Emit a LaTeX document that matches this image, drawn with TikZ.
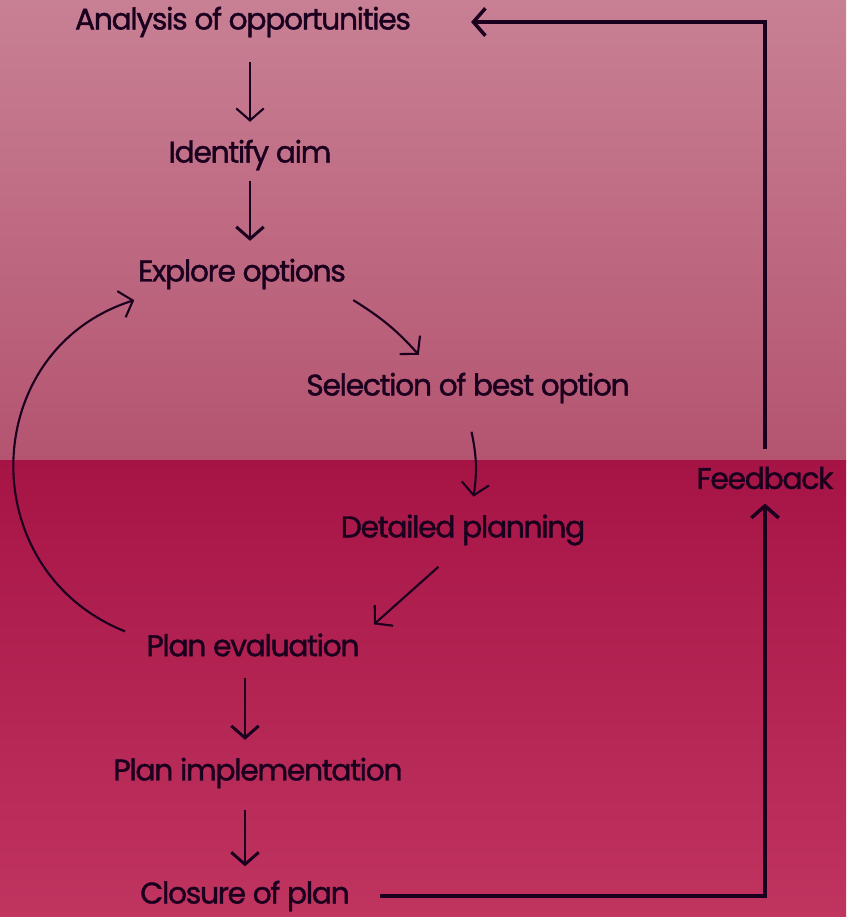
\documentclass[tikz,border=0pt]{standalone}
\usepackage{fontspec}
\setmainfont{Poppins}[LetterSpace=-4.5, FakeBold=1.3]
\usetikzlibrary{arrows.meta}
\definecolor{topA}{RGB}{200,128,148}
\definecolor{topB}{RGB}{180,84,112}
\definecolor{botA}{RGB}{166,20,70}
\definecolor{botB}{RGB}{192,52,96}
\definecolor{ink}{RGB}{26,0,30}
\tikzset{
  step label/.style={font=\fontsize{17}{19}\selectfont, text=ink, inner sep=2pt},
  flow/.style={draw=ink, line width=1.2pt, -{Straight Barb[length=2.4mm,width=5.5mm]}},
  link/.style={draw=ink, line width=2pt},
}
\begin{document}
\begin{tikzpicture}[x=0.02cm, y=-0.02cm]

    % background bands
    \shade[top color=topA, bottom color=topB] (0,0) rectangle (846,460);
    \shade[top color=botA, bottom color=botB] (0,460) rectangle (846,917);
    \useasboundingbox (0,0) rectangle (846,917);

    \node[step label] (analysis) at (243,22) {Analysis of opportunities};
    \node[step label] (aim) at (250,155) {Identify aim};
    \node[step label] (explore) at (242,274) {Explore options};
    \node[step label] (select) at (468,388) {Selection of best option};
    \node[step label] (detail) at (463,530) {Detailed planning};
    \node[step label] (evaluate) at (253,645) {Plan evaluation};
    \node[step label] (implement) at (258,773) {Plan implementation};
    \node[step label] (closure) at (245,896) {Closure of plan};
    \node[step label] (feedback) at (765,478) {Feedback};

    \draw[flow, shorten <=12pt, shorten >=8pt] (aim.north |- analysis.south) -- (aim.north);
    \draw[flow, line width=1.7pt, shorten <=4pt, shorten >=8pt] (aim.south) -- (aim.south |- explore.north);
    \draw[flow] ([xshift=2pt,yshift=-4pt]explore.south east) to[bend left=8] ([xshift=-28pt,yshift=8pt]select.north);
    \draw[flow] ([xshift=2pt,yshift=-14pt]select.south) to[bend left=10] ([xshift=6pt,yshift=8pt]detail.north);
    \draw[flow] ([xshift=-14pt,yshift=-10pt]detail.south) -- ([xshift=6pt,yshift=3pt]evaluate.north east);
    \draw[flow] ([xshift=-10pt,yshift=-1pt]evaluate.north west) .. controls (-28,570) and (-22,350) .. ([xshift=0pt,yshift=-4pt]explore.south west);
    \draw[flow, line width=1.7pt, shorten <=10pt, shorten >=8pt] (evaluate.south -| closure) -- (implement.north -| closure);
    \draw[flow, line width=1.7pt, shorten <=10pt, shorten >=6pt] (implement.south -| closure) -- (closure.north);

    % feedback loop
    \draw[link, -{Straight Barb[length=2.4mm,width=5.5mm]}, shorten >=6pt] ([xshift=15pt]closure.east) -| (feedback.south);
    \draw[link, -{Straight Barb[length=2.4mm,width=5.5mm]}, shorten <=8pt] (feedback.north) |- ([xshift=32pt]analysis.east);

\end{tikzpicture}
\end{document}
